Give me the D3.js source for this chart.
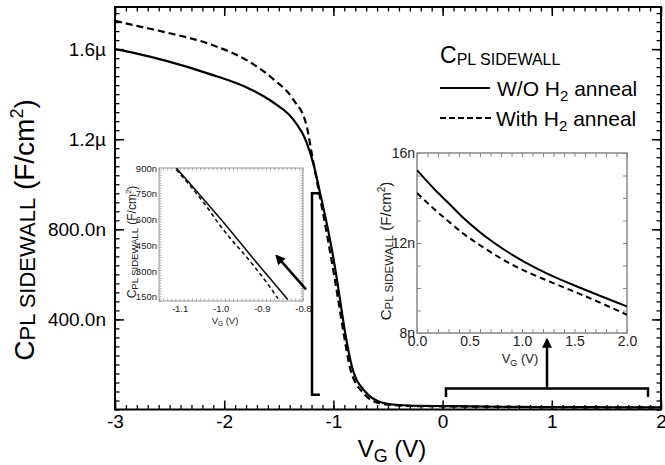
<!DOCTYPE html>
<html>
<head>
<meta charset="utf-8">
<script src="https://cdn.jsdelivr.net/npm/d3@7"></script>
<style>
  body { margin: 0; background: #fff; }
  svg { display: block; font-family: "Liberation Sans", Arial, sans-serif; }
</style>
</head>
<body>
<svg id="chart" width="665" height="465"></svg>
<script>
// main plot: V_G (V) and C (uF/cm^2)
const vgWo = [-3.0, -2.8, -2.53, -2.13, -1.76, -1.55, -1.37, -1.245, -1.18, -1.123, -1.05, -0.985, -0.94, -0.894, -0.83, -0.71, -0.55, -0.4, -0.2, 0.0, 0.5, 1.0, 1.5, 2.0];
const cWo = [1.600, 1.580, 1.548, 1.489, 1.422, 1.363, 1.289, 1.185, 1.085, 0.964, 0.80, 0.63, 0.49, 0.345, 0.19, 0.08, 0.03, 0.020, 0.016, 0.0152, 0.0123, 0.0108, 0.0100, 0.0092];
const vgWith = [-3.0, -2.8, -2.53, -2.13, -1.76, -1.55, -1.37, -1.245, -1.2, -1.13, -1.06, -1.0, -0.95, -0.905, -0.845, -0.73, -0.57, -0.4, -0.2, 0.0, 0.5, 1.0, 1.5, 2.0];
const cWith = [1.726, 1.703, 1.674, 1.622, 1.541, 1.467, 1.378, 1.259, 1.141, 0.96, 0.78, 0.615, 0.47, 0.335, 0.18, 0.075, 0.027, 0.018, 0.015, 0.0142, 0.0119, 0.0104, 0.0096, 0.0088];

// left inset (nF/cm^2)
const vgLoWo = [-1.108, -1.041, -0.992, -0.919, -0.878, -0.837];
const cLoWo = [900, 716, 580, 367, 250, 134];
const vgLoWith = [-1.108, -1.041, -1.0, -0.919, -0.89, -0.861];
const cLoWith = [890, 697, 560, 328, 238, 140];

// right inset (nF/cm^2)
const vgHi = [0, 0.16, 0.29, 0.44, 0.6, 0.92, 1.24, 1.56, 2.0];
const cHiWo = [15.24, 14.42, 13.82, 13.12, 12.48, 11.44, 10.64, 10.0, 9.18];
const cHiWith = [14.22, 13.52, 13.0, 12.42, 11.9, 11.0, 10.33, 9.72, 8.81];

const xTicks = [-3, -2, -1, 0, 1, 2];
const yTicks = [0.4, 0.8, 1.2, 1.6];
const yTickText = ['400.0n', '800.0n', '1.2µ', '1.6µ'];
const loXTicks = [-1.1, -1.0, -0.9, -0.8];
const loYTicks = [150, 300, 450, 600, 750, 900];
const hiXTicks = [0, 0.5, 1, 1.5, 2];
const hiYTicks = [8, 12, 16];

const svg = d3.select('#chart');

const x = d3.scaleLinear().domain([-3, 2]).range([115, 661]);
const y = d3.scaleLinear().domain([0, 1.787]).range([409.5, 7]);

const xLo = d3.scaleLinear().domain([-1.15, -0.8]).range([159, 303]);
const yLo = d3.scaleLinear().domain([125, 900]).range([301, 168]);

const xHi = d3.scaleLinear().domain([0, 2]).range([417, 627]);
const yHi = d3.scaleLinear().domain([8, 16]).range([333, 153]);

const inwardTicks = (g, xs, ys, xVals, yVals, len, color, width) => {
  const [x0, x1] = xs.range();
  const [y0, y1] = ys.range();
  [
    [d3.axisBottom(xs).tickValues(xVals), `translate(0,${y0})`],
    [d3.axisTop(xs).tickValues(xVals), `translate(0,${y1})`],
    [d3.axisLeft(ys).tickValues(yVals), `translate(${x0},0)`],
    [d3.axisRight(ys).tickValues(yVals), `translate(${x1},0)`]
  ].forEach(([ax, tr]) => {
    const a = g.append('g').attr('transform', tr).call(ax.tickSize(-len).tickFormat(''));
    a.select('.domain').remove();
    a.selectAll('line').attr('stroke', color).attr('stroke-width', width);
  });
};

const tickLabels = (g, axis, tr, size, color) => {
  const a = g.append('g').attr('transform', tr).call(axis.tickSize(0));
  a.attr('font-family', null).attr('font-size', size);
  a.select('.domain').remove();
  a.selectAll('text').attr('fill', color);
};

const rich = (sel, parts) => {
  parts.forEach(([t, size, dy]) => {
    sel.append('tspan').attr('font-size', size).attr('dy', dy).text(t);
  });
  return sel;
};

const frameRect = (g, xs, ys, color, width) => {
  g.append('rect')
    .attr('x', xs.range()[0]).attr('y', ys.range()[1])
    .attr('width', xs.range()[1] - xs.range()[0])
    .attr('height', ys.range()[0] - ys.range()[1])
    .attr('fill', 'none').attr('stroke', color).attr('stroke-width', width);
};

const lineOf = (xs, ys) => d3.line().x((d) => xs(d[0])).y((d) => ys(d[1])).curve(d3.curveMonotoneX);

// arrow marker
svg.append('defs').append('marker')
  .attr('id', 'head')
  .attr('viewBox', '0 0 10 10')
  .attr('refX', 8).attr('refY', 5)
  .attr('markerWidth', 12).attr('markerHeight', 10)
  .attr('markerUnits', 'userSpaceOnUse')
  .attr('orient', 'auto')
  .append('path').attr('d', 'M0,0L10,5L0,10z').attr('fill', '#000');

// ---- main plot ----
const main = svg.append('g');
inwardTicks(main, x, y, d3.range(-3, 2.001, 0.1), d3.range(0, 1.787, 0.04), 4.5, '#000', 1.3);
inwardTicks(main, x, y, xTicks, yTicks, 9, '#000', 1.5);
frameRect(main, x, y, '#000', 2);

tickLabels(main, d3.axisBottom(x).tickValues(xTicks).tickPadding(5).tickFormat((d) => String(d)),
  `translate(0,${y.range()[0]})`, 19, '#000');
tickLabels(main, d3.axisLeft(y).tickValues(yTicks).tickPadding(9).tickFormat((d, i) => yTickText[i]),
  `translate(${x.range()[0]},0)`, 19, '#000');

main.append('path').datum(d3.zip(vgWo, cWo))
  .attr('d', lineOf(x, y)).attr('fill', 'none').attr('stroke', '#000').attr('stroke-width', 2.2);
main.append('path').datum(d3.zip(vgWith, cWith))
  .attr('d', lineOf(x, y)).attr('fill', 'none').attr('stroke', '#000').attr('stroke-width', 2.2)
  .attr('stroke-dasharray', '7,4');

rich(main.append('text').attr('transform', 'translate(34,230) rotate(-90)').attr('text-anchor', 'middle'),
  [['C', 28, 0], ['PL SIDEWALL', 22, 1], [' (F/cm', 28, -1], ['2', 18, -11], [')', 28, 11]]);
rich(main.append('text').attr('x', 392).attr('y', 457).attr('text-anchor', 'middle'),
  [['V', 24, 0], ['G', 18, 5], [' (V)', 24, -5]]);

// legend
const legend = svg.append('g');
rich(legend.append('text').attr('x', 440).attr('y', 63), [['C', 23, 0], ['PL SIDEWALL', 16, 2]]);
legend.append('line').attr('x1', 440).attr('x2', 490).attr('y1', 88).attr('y2', 88)
  .attr('stroke', '#000').attr('stroke-width', 2);
legend.append('line').attr('x1', 440).attr('x2', 493).attr('y1', 118).attr('y2', 118)
  .attr('stroke', '#000').attr('stroke-width', 2).attr('stroke-dasharray', '6,3');
rich(legend.append('text').attr('x', 497).attr('y', 96), [['W/O H', 21, 0], ['2', 15, 5], [' anneal', 21, -5]]);
rich(legend.append('text').attr('x', 496).attr('y', 126), [['With H', 21, 0], ['2', 15, 5], [' anneal', 21, -5]]);

// ---- left inset ----
const lo = svg.append('g');
lo.append('rect').attr('x', 159).attr('y', 168).attr('width', 144).attr('height', 133).attr('fill', '#fff');
lo.append('clipPath').attr('id', 'clipLo').append('rect')
  .attr('x', 159).attr('y', 168).attr('width', 144).attr('height', 133);
inwardTicks(lo, xLo, yLo, d3.range(-1.15, -0.799, 0.01), d3.range(125, 901, 15), 2.5, '#999', 0.8);
frameRect(lo, xLo, yLo, '#999', 1);
const loCurves = lo.append('g').attr('clip-path', 'url(#clipLo)').attr('fill', 'none').attr('stroke', '#111');
loCurves.append('path').datum(d3.zip(vgLoWo, cLoWo)).attr('d', lineOf(xLo, yLo)).attr('stroke-width', 1.6);
loCurves.append('path').datum(d3.zip(vgLoWith, cLoWith)).attr('d', lineOf(xLo, yLo)).attr('stroke-width', 1.6)
  .attr('stroke-dasharray', '4,3');
tickLabels(lo, d3.axisBottom(xLo).tickValues(loXTicks).tickPadding(4.5).tickFormat((d) => d.toFixed(1)),
  'translate(0,301)', 9.5, '#222');
tickLabels(lo, d3.axisLeft(yLo).tickValues(loYTicks).tickPadding(2).tickFormat((d) => d + 'n'),
  'translate(159,0)', 9.5, '#222');
rich(lo.append('text').attr('transform', 'translate(136,242) rotate(-90)').attr('text-anchor', 'middle').attr('fill', '#222'),
  [['C', 12, 0], ['PL SIDEWALL', 9.5, 2], [' (F/cm', 12, -2], ['2', 8, -5], [')', 12, 5]]);
rich(lo.append('text').attr('x', 225).attr('y', 324).attr('text-anchor', 'middle').attr('fill', '#222'),
  [['V', 9.5, 0], ['G', 6.5, 2], [' (V)', 9.5, -2]]);

// ---- right inset ----
const hi = svg.append('g');
hi.append('rect').attr('x', 417).attr('y', 153).attr('width', 210).attr('height', 180).attr('fill', '#fff');
hi.append('clipPath').attr('id', 'clipHi').append('rect')
  .attr('x', 417).attr('y', 153).attr('width', 210).attr('height', 180);
inwardTicks(hi, xHi, yHi, d3.range(0, 2.001, 0.1), d3.range(8, 16.001, 1), 4, '#888', 1);
frameRect(hi, xHi, yHi, '#888', 1.5);
const hiCurves = hi.append('g').attr('clip-path', 'url(#clipHi)').attr('fill', 'none').attr('stroke', '#000');
hiCurves.append('path').datum(d3.zip(vgHi, cHiWo)).attr('d', lineOf(xHi, yHi)).attr('stroke-width', 2);
hiCurves.append('path').datum(d3.zip(vgHi, cHiWith)).attr('d', lineOf(xHi, yHi)).attr('stroke-width', 2)
  .attr('stroke-dasharray', '6,4');
tickLabels(hi, d3.axisBottom(xHi).tickValues(hiXTicks).tickPadding(3.5).tickFormat((d) => d.toFixed(1)),
  'translate(0,333)', 14, '#222');
tickLabels(hi, d3.axisLeft(yHi).tickValues(hiYTicks).tickPadding(2).tickFormat((d) => d + 'n'),
  'translate(417,0)', 14, '#222');
rich(hi.append('text').attr('transform', 'translate(391,251) rotate(-90)').attr('text-anchor', 'middle').attr('fill', '#222'),
  [['C', 15, 0], ['PL SIDEWALL', 11.5, 2], [' (F/cm', 15, -2], ['2', 10, -6], [')', 15, 6]]);
rich(hi.append('text').attr('x', 520).attr('y', 363).attr('text-anchor', 'middle').attr('fill', '#222'),
  [['V', 13, 0], ['G', 9, 3], [' (V)', 13, -3]]);

// annotations on top: brackets and arrows in main-plot units
const ann = svg.append('g').attr('fill', 'none').attr('stroke', '#000').attr('stroke-width', 2.5);
ann.append('path').attr('d', d3.line()([
  [x(-1.123), y(0.96)], [x(-1.196), y(0.96)], [x(-1.196), y(0.065)], [x(-1.123), y(0.065)]
]));
ann.append('path').attr('d', d3.line()([
  [x(0.031), y(0.055)], [x(0.031), y(0.093)], [x(1.881), y(0.093)], [x(1.881), y(0.055)]
]));
ann.append('line')
  .attr('x1', x(0.956)).attr('y1', y(0.093)).attr('x2', x(0.956)).attr('y2', y(0.31))
  .attr('marker-end', 'url(#head)');
ann.append('line')
  .attr('x1', x(-1.251)).attr('y1', y(0.533)).attr('x2', x(-1.52)).attr('y2', y(0.682))
  .attr('marker-end', 'url(#head)');
</script>
</body>
</html>
